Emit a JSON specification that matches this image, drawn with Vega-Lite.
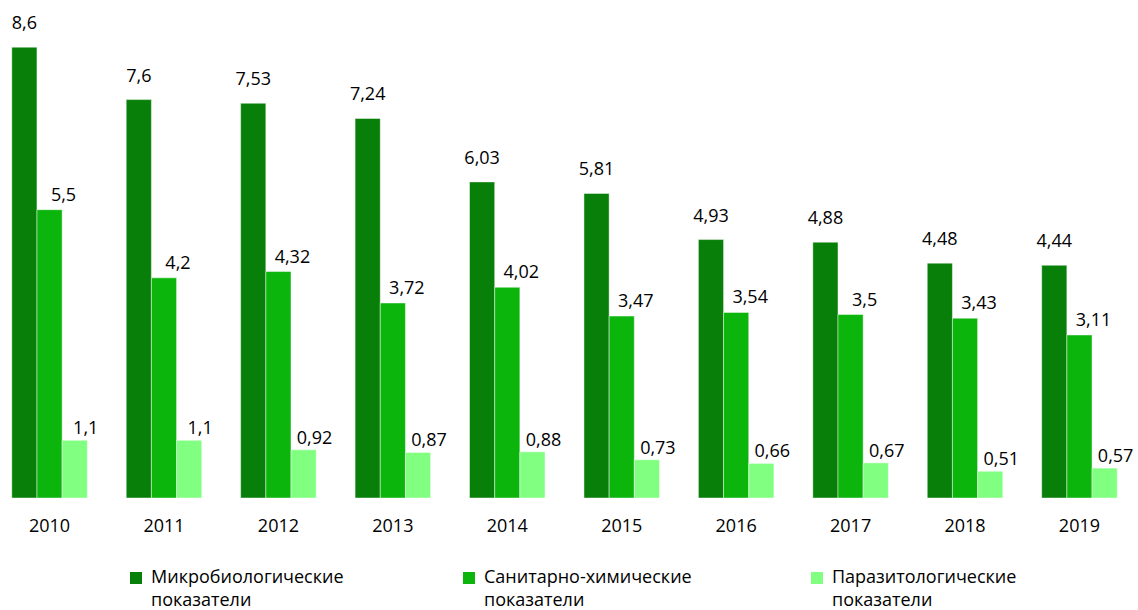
{
  "$schema": "https://vega.github.io/schema/vega-lite/v6.json",
  "width": 1129,
  "height": 498,
  "autosize": {"type": "none"},
  "padding": {"left": 0, "top": 0, "right": 9, "bottom": 112},
  "config": {
    "view": {"stroke": null},
    "font": "Open Sans",
    "style": {"guide-label": {"lineHeight": 23}},
    "locale": {"number": {"decimal": ",", "thousands": " ", "grouping": [3], "currency": ["", ""]}}
  },
  "data": {
    "values": [
      {"year": "2010", "s": "Микробиологические|показатели", "v": 8.6},
      {"year": "2011", "s": "Микробиологические|показатели", "v": 7.6},
      {"year": "2012", "s": "Микробиологические|показатели", "v": 7.53},
      {"year": "2013", "s": "Микробиологические|показатели", "v": 7.24},
      {"year": "2014", "s": "Микробиологические|показатели", "v": 6.03},
      {"year": "2015", "s": "Микробиологические|показатели", "v": 5.81},
      {"year": "2016", "s": "Микробиологические|показатели", "v": 4.93},
      {"year": "2017", "s": "Микробиологические|показатели", "v": 4.88},
      {"year": "2018", "s": "Микробиологические|показатели", "v": 4.48},
      {"year": "2019", "s": "Микробиологические|показатели", "v": 4.44},
      {"year": "2010", "s": "Санитарно-химические|показатели", "v": 5.5},
      {"year": "2011", "s": "Санитарно-химические|показатели", "v": 4.2},
      {"year": "2012", "s": "Санитарно-химические|показатели", "v": 4.32},
      {"year": "2013", "s": "Санитарно-химические|показатели", "v": 3.72},
      {"year": "2014", "s": "Санитарно-химические|показатели", "v": 4.02},
      {"year": "2015", "s": "Санитарно-химические|показатели", "v": 3.47},
      {"year": "2016", "s": "Санитарно-химические|показатели", "v": 3.54},
      {"year": "2017", "s": "Санитарно-химические|показатели", "v": 3.5},
      {"year": "2018", "s": "Санитарно-химические|показатели", "v": 3.43},
      {"year": "2019", "s": "Санитарно-химические|показатели", "v": 3.11},
      {"year": "2010", "s": "Паразитологические|показатели", "v": 1.1},
      {"year": "2011", "s": "Паразитологические|показатели", "v": 1.1},
      {"year": "2012", "s": "Паразитологические|показатели", "v": 0.92},
      {"year": "2013", "s": "Паразитологические|показатели", "v": 0.87},
      {"year": "2014", "s": "Паразитологические|показатели", "v": 0.88},
      {"year": "2015", "s": "Паразитологические|показатели", "v": 0.73},
      {"year": "2016", "s": "Паразитологические|показатели", "v": 0.66},
      {"year": "2017", "s": "Паразитологические|показатели", "v": 0.67},
      {"year": "2018", "s": "Паразитологические|показатели", "v": 0.51},
      {"year": "2019", "s": "Паразитологические|показатели", "v": 0.57}
    ]
  },
  "encoding": {
    "x": {
      "field": "year", "type": "nominal",
      "scale": {"paddingInner": 0.34, "paddingOuter": 0.103},
      "axis": {"title": null, "domain": false, "ticks": false, "labelAngle": 0, "labelFontSize": 18, "labelColor": "#000000", "labelPadding": 19, "labelFont": "Open Sans"}
    },
    "xOffset": {
      "field": "s", "type": "nominal",
      "sort": ["Микробиологические|показатели", "Санитарно-химические|показатели", "Паразитологические|показатели"],
      "scale": {"paddingInner": 0, "paddingOuter": 0}
    },
    "y": {
      "field": "v", "type": "quantitative",
      "scale": {"domain": [0, 9.5], "nice": false, "zero": true},
      "axis": null
    }
  },
  "layer": [
    {
      "mark": {"type": "bar", "stroke": "#ffffff", "strokeWidth": 1, "strokeOpacity": 0.45},
      "encoding": {
        "color": {
          "field": "s", "type": "nominal",
          "sort": ["Микробиологические|показатели", "Санитарно-химические|показатели", "Паразитологические|показатели"],
          "scale": {"range": ["#087f08", "#0cb50c", "#80ff80"]},
          "legend": {
            "title": null,
            "orient": "none",
            "legendX": 127,
            "legendY": 569,
            "direction": "horizontal",
            "columns": 3,
            "columnPadding": 116,
            "symbolType": "square",
            "symbolSize": 144,
            "symbolStrokeWidth": 0,
            "labelFontSize": 18,
            "labelFont": "Open Sans",
            "labelColor": "#000000",
            "labelOffset": 6,
            "labelLimit": 400,
            "labelBaseline": "middle",
            "labelExpr": "split(datum.label, '|')"
          }
        }
      }
    },
    {
      "transform": [{"filter": "datum.s == 'Микробиологические|показатели'"}],
      "mark": {"type": "text", "fontSize": 18, "font": "Open Sans", "color": "#000000", "baseline": "alphabetic", "dy": -18},
      "encoding": {"text": {"field": "v", "type": "quantitative", "format": "~g"}}
    },
    {
      "transform": [{"filter": "datum.s == 'Санитарно-химические|показатели'"}],
      "mark": {"type": "text", "fontSize": 18, "font": "Open Sans", "color": "#000000", "baseline": "alphabetic", "dy": -9, "dx": 14},
      "encoding": {"text": {"field": "v", "type": "quantitative", "format": "~g"}}
    },
    {
      "transform": [{"filter": "datum.s == 'Паразитологические|показатели'"}],
      "mark": {"type": "text", "fontSize": 18, "font": "Open Sans", "color": "#000000", "baseline": "alphabetic", "dy": -6, "dx": 11},
      "encoding": {"text": {"field": "v", "type": "quantitative", "format": "~g"}}
    }
  ]
}
